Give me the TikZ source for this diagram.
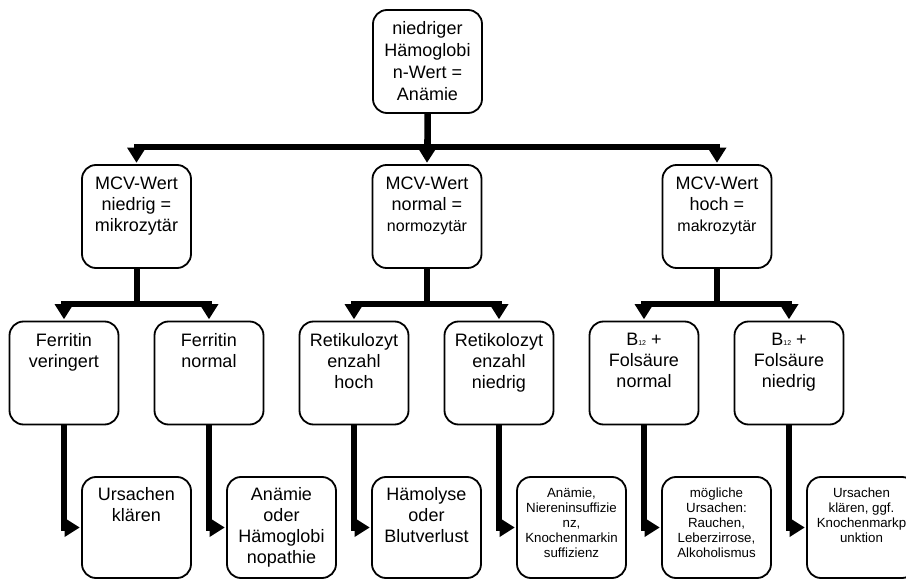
\documentclass[tikz,border=0pt]{standalone}
\usepackage{fontspec}
\setmainfont{Liberation Sans}
\usepackage{tikz}
\usetikzlibrary{arrows.meta}
\newcommand{\boxtext}[1]{\parbox[c][80pt][t]{108pt}{\centering #1}}

\begin{document}
\begin{tikzpicture}[x=1pt,y=-1pt,
    stepbox/.style={draw,line width=1.8pt,rounded corners=14pt,inner sep=0pt,
      minimum width=109pt,minimum height=103pt,font=\fontsize{18}{21}\selectfont},
    smalltext/.style={font=\fontsize{13.3}{15.2}\selectfont},
    conn/.style={line width=6pt,shorten >=1.5pt,
      -{Triangle[length=15pt,width=19pt,line width=0pt]}}]
    \useasboundingbox (0,0) rectangle (906,580);
    % top
    \node[stepbox,align=center,font=\fontsize{18}{22}\selectfont] (anaemie) at (427.5,61.5)
      {niedriger\\Hämoglobi\\n-Wert =\\Anämie};
    % MCV
    \node[stepbox] (mcvlow) at (136.5,216.5) {\boxtext{MCV-Wert\\niedrig =\\mikrozytär}};
    \node[stepbox] (mcvnorm) at (427,216.5)
      {\boxtext{MCV-Wert\\normal =\\{\fontsize{16}{21}\selectfont normozytär}}};
    \node[stepbox] (mcvhigh) at (717,216.5)
      {\boxtext{MCV-Wert\\hoch =\\{\fontsize{16}{21}\selectfont makrozytär}}};
    % findings
    \node[stepbox] (ferlow) at (64,373) {\boxtext{Ferritin\\veringert}};
    \node[stepbox] (fernorm) at (209,373) {\boxtext{Ferritin\\normal}};
    \node[stepbox] (retihigh) at (354,373) {\boxtext{Retikulozyt\\enzahl\\hoch}};
    \node[stepbox] (retilow) at (499,373) {\boxtext{Retikolozyt\\enzahl\\niedrig}};
    \node[stepbox] (bnorm) at (644,373)
      {\boxtext{B\raisebox{-0.5pt}{\fontsize{7}{8}\selectfont 12} +\\Folsäure\\normal}};
    \node[stepbox] (blow) at (789,373)
      {\boxtext{B\raisebox{-0.5pt}{\fontsize{7}{8}\selectfont 12} +\\Folsäure\\niedrig}};
    % causes
    \node[stepbox,minimum height=101pt] (cause1) at (136.5,527.5) {\boxtext{Ursachen\\klären}};
    \node[stepbox,minimum height=101pt] (cause2) at (281.5,527.5)
      {\boxtext{Anämie\\oder\\Hämoglobi\\nopathie}};
    \node[stepbox,minimum height=101pt] (cause3) at (426.5,527.5)
      {\boxtext{Hämolyse\\oder\\Blutverlust}};
    \node[stepbox,smalltext,minimum height=101pt] (cause4) at (571.5,527.5)
      {\boxtext{Anämie,\\Niereninsuffizie\\nz,\\Knochenmarkin\\suffizienz}};
    \node[stepbox,smalltext,minimum height=101pt] (cause5) at (716.5,527.5)
      {\boxtext{mögliche\\Ursachen:\\Rauchen,\\Leberzirrose,\\Alkoholismus}};
    \node[stepbox,smalltext,minimum height=101pt] (cause6) at (861.5,527.5)
      {\boxtext{Ursachen\\klären, ggf.\\Knochenmarkp\\unktion}};
    % connectors
    \draw[conn] (anaemie.south) -- ++(0,33) -| (mcvlow.north);
    \draw[conn] (anaemie.south) -- ++(0,33) -| (mcvhigh.north);
    \draw[conn] (anaemie.south) -- (mcvnorm.north);
    \draw[conn] (mcvlow.south) -- ++(0,35) -| (ferlow.north);
    \draw[conn] (mcvlow.south) -- ++(0,35) -| (fernorm.north);
    \draw[conn] (mcvnorm.south) -- ++(0,35) -| (retihigh.north);
    \draw[conn] (mcvnorm.south) -- ++(0,35) -| (retilow.north);
    \draw[conn] (mcvhigh.south) -- ++(0,35) -| (bnorm.north);
    \draw[conn] (mcvhigh.south) -- ++(0,35) -| (blow.north);
    \draw[conn] (ferlow.south) |- (cause1.west);
    \draw[conn] (fernorm.south) |- (cause2.west);
    \draw[conn] (retihigh.south) |- (cause3.west);
    \draw[conn] (retilow.south) |- (cause4.west);
    \draw[conn] (bnorm.south) |- (cause5.west);
    \draw[conn] (blow.south) |- (cause6.west);
\end{tikzpicture}
\end{document}
